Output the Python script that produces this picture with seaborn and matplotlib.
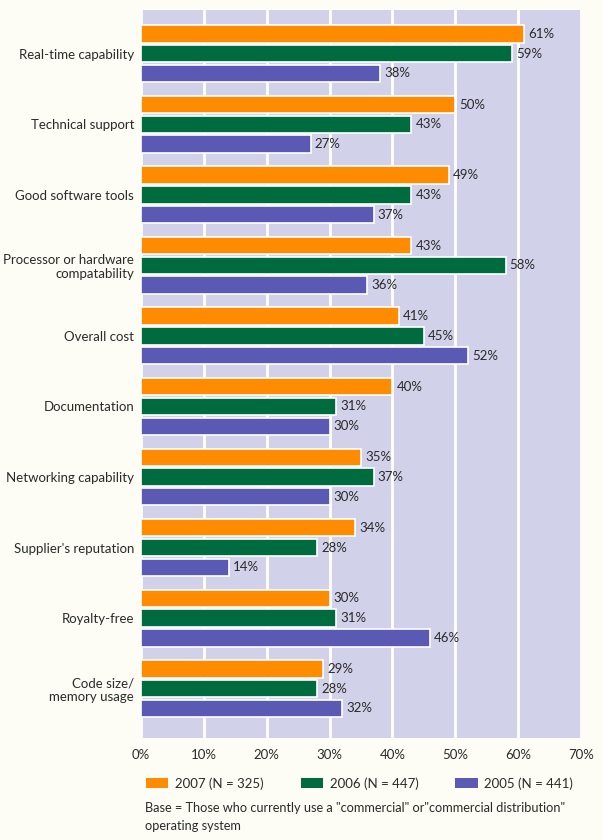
import matplotlib
matplotlib.use("Agg")
import matplotlib.pyplot as plt
import matplotlib.transforms as mtransforms
import seaborn as sns
import pandas as pd
from matplotlib.patches import Patch

categories = [
    "Real-time capability",
    "Technical support",
    "Good software tools",
    "Processor or hardware\ncompatability",
    "Overall cost",
    "Documentation",
    "Networking capability",
    "Supplier's reputation",
    "Royalty-free",
    "Code size/\nmemory usage",
]
series = ["2007 (N = 325)", "2006 (N = 447)", "2005 (N = 441)"]
values_2007 = [61, 50, 49, 43, 41, 40, 35, 34, 30, 29]
values_2006 = [59, 43, 43, 58, 45, 31, 37, 28, 31, 28]
values_2005 = [38, 27, 37, 36, 52, 30, 30, 14, 46, 32]
x_ticks = [0, 10, 20, 30, 40, 50, 60, 70]
footnote = 'Base = Those who currently use a "commercial" or"commercial distribution"\noperating system'

colors = ["#ff8c00", "#006b3f", "#5a5ab4"]
bg = "#fdfdf6"
plot_bg = "#d2d1ea"
text_col = "#2a2a2a"

rows = []
for name, vals in zip(series, [values_2007, values_2006, values_2005]):
    for cat, v in zip(categories, vals):
        rows.append({"factor": cat, "share": v, "year": name})
df = pd.DataFrame(rows)

sns.set_style("white")
plt.rcParams["font.family"] = ["Lato", "DejaVu Sans"]

fs = 9.5

fig = plt.figure(figsize=(6.03, 8.40), dpi=100, facecolor=bg)
ax = fig.add_axes([141 / 603, 1 - 738 / 840, 440 / 603, 728 / 840])
ax.set_facecolor(plot_bg)

sns.barplot(
    data=df, y="factor", x="share", hue="year", order=categories,
    hue_order=series, palette=colors, orient="h", width=0.84, gap=0.12,
    edgecolor="white", linewidth=1.2, saturation=1, legend=False, ax=ax,
    zorder=3,
)

ax.set_xlim(0, 70)
ax.set_ylim(9.70, -0.62)
ax.set_xticks(x_ticks)
ax.set_xticklabels([f"{t}%" for t in x_ticks], fontsize=fs, color=text_col)
ax.xaxis.grid(True, color="white", linewidth=2, zorder=0)
ax.yaxis.grid(False)
ax.set_axisbelow(True)
for s in ax.spines.values():
    s.set_visible(False)
ax.tick_params(axis="x", length=0, pad=8)
ax.tick_params(axis="y", length=0, pad=5)
ax.set_yticks(range(len(categories)))
ax.set_yticklabels(categories, fontsize=fs, color=text_col, ha="right",
                   multialignment="right", linespacing=1.15)
ax.set_xlabel("")
ax.set_ylabel("")

# value labels sit just past each bar end, nudged slightly downward
shift = mtransforms.ScaledTranslation(0, -3 / 100, fig.dpi_scale_trans)
for container in ax.containers:
    labels = ax.bar_label(container, labels=[f"{v:.0f}%" for v in container.datavalues],
                          padding=3, fontsize=fs, color=text_col, zorder=4)
    for t in labels:
        t.set_transform(t.get_transform() + shift)

handles = [Patch(facecolor=c, edgecolor="none") for c in colors]
fig.legend(handles, series, loc="upper left", bbox_to_anchor=(146 / 603, 1 - 777 / 840),
           ncol=3, frameon=False, fontsize=fs, handlelength=1.7, handleheight=0.7,
           columnspacing=2.8, handletextpad=0.5, borderaxespad=0, borderpad=0,
           labelcolor=text_col)
fig.text(145 / 603, 1 - 802 / 840, footnote, fontsize=9.2, color=text_col,
         va="top", ha="left", linespacing=1.55)

fig.savefig("out.png", dpi=100, facecolor=bg)
